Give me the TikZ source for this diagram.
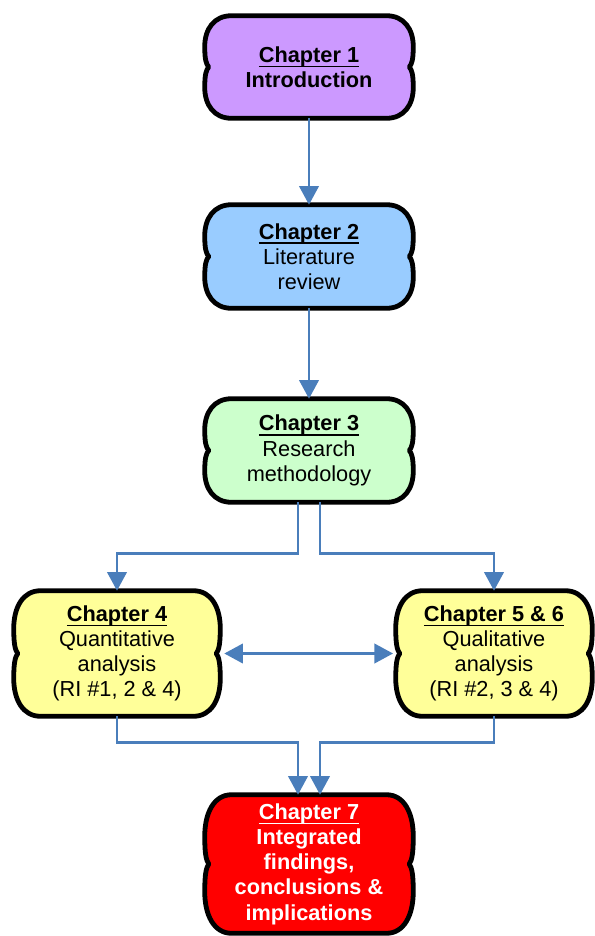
\documentclass[tikz,border=0pt]{standalone}
\usepackage{fontspec}
\setmainfont{Liberation Sans}
\usetikzlibrary{arrows.meta,backgrounds,calc}

\definecolor{connblue}{HTML}{4A7EBB}
\definecolor{introfill}{HTML}{CC99FF}
\definecolor{litfill}{HTML}{99CCFF}
\definecolor{methfill}{HTML}{CCFFCC}
\definecolor{analfill}{HTML}{FFFF99}
\definecolor{findfill}{HTML}{FF0000}

\tikzset{
  bluetip/.tip={Triangle[width=14.5pt,length=14pt]},
  chap/.style={rectangle, align=center, inner sep=0pt,
    font=\fontsize{16.3}{18.9}\selectfont},
  conn/.style={draw=connblue, line width=2.2pt, -bluetip},
  bubbleline/.style={draw=black, line width=3.6pt, line join=round},
}

% bold heading with a rule close under the baseline
\newcommand\chaphead[1]{%
  \setbox0\hbox{\textbf{#1}}%
  \rlap{\rule[-3.7pt]{\wd0}{1.2pt}}\box0}

% Rounded box with a small notch in the middle of each side,
% drawn behind the named text node #1 and filled with #2.
\newcommand\bubble[2]{%
  \begin{scope}[on background layer]
    \path[bubbleline, fill=#2]
      let \p1=(#1.north west), \p2=(#1.south east),
          \n1={\y1-\y2}, \n2={20}, \n3={3} in
      (\x1+\n2,\y1) -- (\x2-\n2,\y1)
      .. controls (\x2-0.35*\n2,\y1) and (\x2,\y1-0.13*\n1) .. (\x2,\y1-0.3*\n1)
      .. controls (\x2,\y1-0.42*\n1) and (\x2-0.3*\n3,\y1-0.47*\n1) .. (\x2-\n3,\y1-0.5*\n1)
      .. controls (\x2-0.3*\n3,\y2+0.47*\n1) and (\x2,\y2+0.42*\n1) .. (\x2,\y2+0.3*\n1)
      .. controls (\x2,\y2+0.13*\n1) and (\x2-0.35*\n2,\y2) .. (\x2-\n2,\y2)
      -- (\x1+\n2,\y2)
      .. controls (\x1+0.35*\n2,\y2) and (\x1,\y2+0.13*\n1) .. (\x1,\y2+0.3*\n1)
      .. controls (\x1,\y2+0.42*\n1) and (\x1+0.3*\n3,\y2+0.47*\n1) .. (\x1+\n3,\y2+0.5*\n1)
      .. controls (\x1+0.3*\n3,\y1-0.47*\n1) and (\x1,\y1-0.42*\n1) .. (\x1,\y1-0.3*\n1)
      .. controls (\x1,\y1-0.13*\n1) and (\x1+0.35*\n2,\y1) .. (\x1+\n2,\y1)
      -- cycle;
  \end{scope}%
}

\begin{document}
\begin{tikzpicture}[x=0.75pt,y=-0.75pt]
  \useasboundingbox (0,0) rectangle (594,936);

  \node[chap, minimum width=156pt, minimum height=76.5pt] (c1) at (309,67)
    {\chaphead{Chapter 1}\\ \textbf{Introduction}};
  \node[chap, minimum width=156pt, minimum height=77.25pt] (c2) at (309,256.5)
    {\chaphead{Chapter 2}\\ Literature\\ review};
  \node[chap, minimum width=156pt, minimum height=77.25pt] (c3) at (309,450.5)
    {\chaphead{Chapter 3}\\ Research\\ methodology};
  \node[chap, minimum width=154.5pt, minimum height=93.75pt] (c4) at (117,653.5)
    {\chaphead{Chapter 4}\\ Quantitative\\ analysis\\ (RI \#1, 2 \& 4)};
  \node[chap, minimum width=147pt, minimum height=93.75pt] (c56) at (494,653.5)
    {\chaphead{Chapter 5 \& 6}\\ Qualitative\\ analysis\\ (RI \#2, 3 \& 4)};
  \node[chap, minimum width=156pt, minimum height=103.5pt, text=white] (c7) at (309,864)
    {\chaphead{Chapter 7}\\ \textbf{Integrated}\\ \textbf{findings,}\\
     \textbf{conclusions \&}\\ \textbf{implications}};

  \bubble{c1}{introfill}
  \bubble{c2}{litfill}
  \bubble{c3}{methfill}
  \bubble{c4}{analfill}
  \bubble{c56}{analfill}
  \bubble{c7}{findfill}

  % connectors
  \draw[conn] (c1) -- (c2);
  \draw[conn] (c2) -- (c3);
  \draw[conn] ([xshift=-8.25pt]c3.south) -- ++(0,51) -| (c4.north);
  \draw[conn] ([xshift=8.25pt]c3.south) -- ++(0,51) -| (c56.north);
  \draw[conn, bluetip-bluetip, shorten <=3pt, shorten >=2pt] (c4.east) -- (c56.west);
  \draw[conn] (c4.south) -- ++(0,26) -| ([xshift=-8.25pt]c7.north);
  \draw[conn] (c56.south) -- ++(0,26) -| ([xshift=8.25pt]c7.north);
\end{tikzpicture}
\end{document}
